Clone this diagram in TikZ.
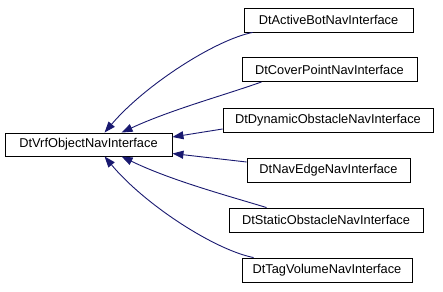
\documentclass[tikz,border=0pt]{standalone}
\usepackage{fontspec}
\setmainfont{Liberation Sans}
\usetikzlibrary{arrows.meta,calc}
\definecolor{navy}{RGB}{25,25,112}
\tikzset{
  cls/.style={draw=black, fill=white, line width=0.9pt, inner sep=0pt, minimum height=24pt,
    font=\fontsize{12.8}{14}\selectfont},
  edge/.style={draw=navy, line width=0.9pt, {Triangle[length=11pt,width=8pt]}-}
}
\begin{document}
\begin{tikzpicture}[x=1pt,y=-1pt]
\useasboundingbox (0,0) rectangle (443,291);
\node[cls, minimum width=167pt, minimum height=23pt] (main) at (88.5,144.5) {DtVrfObjectNavInterface};
\node[cls, minimum width=169pt] (c1) at (328.5,20) {DtActiveBotNavInterface};
\node[cls, minimum width=175pt] (c2) at (329.5,69.5) {DtCoverPointNavInterface};
\node[cls, minimum width=210pt] (c3) at (328,120) {DtDynamicObstacleNavInterface};
\node[cls, minimum width=163pt] (c4) at (328.5,170) {DtNavEdgeNavInterface};
\node[cls, minimum width=194pt] (c5) at (326,220) {DtStaticObstacleNavInterface};
\node[cls, minimum width=170pt] (c6) at (327,270) {DtTagVolumeNavInterface};
% parent-end coordinates
\coordinate (p1) at ($(main.north west)+(100,0)$);
\coordinate (p2) at ($(main.north west)+(117,0)$);
\coordinate (p3) at ($(main.east)+(0,-7.5)$);
\coordinate (p4) at ($(main.east)+(0,9)$);
\coordinate (p5) at ($(main.south west)+(117,0)$);
\coordinate (p6) at ($(main.south west)+(100,0)$);
% child-end coordinates
\coordinate (q1) at ($(c1.south west)+(9,0)$);
\coordinate (q2) at ($(c2.south west)+(20,0)$);
\coordinate (q3) at ($(c3.west)+(0,9)$);
\coordinate (q4) at ($(c4.west)+(0,-8)$);
\coordinate (q5) at ($(c5.north west)+(38,0)$);
\coordinate (q6) at ($(c6.north west)+(12,0)$);
\draw[edge] (p1) .. controls (145,85) and (215,40) .. (q1);
\draw[edge] (p2) .. controls (170,110) and (225,95) .. (q2);
\draw[edge] (p3) -- (q3);
\draw[edge] (p4) -- (q4);
\draw[edge] (p5) .. controls (170,180) and (225,195) .. (q5);
\draw[edge] (p6) .. controls (145,205) and (215,250) .. (q6);
\end{tikzpicture}
\end{document}
